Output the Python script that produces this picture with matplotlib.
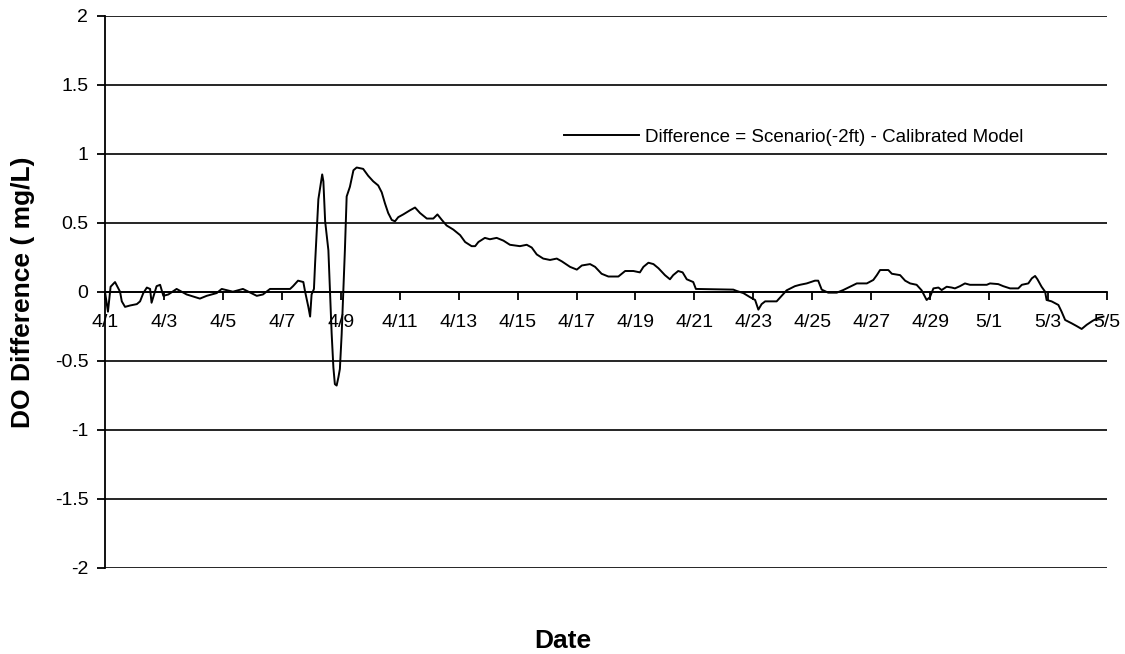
import matplotlib
matplotlib.use('Agg')
import matplotlib.pyplot as plt
import matplotlib.dates as mdates
import numpy as np
import pandas as pd

# Data: days since 4/1 and DO difference (mg/L)
START_DATE = '2004-04-01'
END_DATE = '2004-05-05'

days = [
    0.00, 0.10, 0.19, 0.34, 0.51, 0.57, 0.68, 0.85, 1.08, 1.19, 1.30, 1.42,
    1.53, 1.58, 1.75, 1.87, 1.98, 2.15, 2.43, 2.77, 3.22, 3.45, 3.79, 3.96,
    4.34, 4.68, 5.15, 5.36, 5.60, 6.28, 6.38, 6.55, 6.73, 6.79, 6.90, 6.96,
    7.01, 7.09, 7.13, 7.24, 7.37, 7.41, 7.47, 7.58, 7.69, 7.75, 7.80, 7.86,
    7.92, 7.97, 8.03, 8.14, 8.20, 8.31, 8.43, 8.54, 8.76, 8.93, 9.10, 9.27,
    9.39, 9.50, 9.61, 9.73, 9.84, 9.95, 10.12, 10.35, 10.52, 10.69, 10.92,
    11.14, 11.28, 11.43, 11.59, 11.82, 12.05, 12.22, 12.44, 12.56, 12.67,
    12.89, 13.06, 13.29, 13.52, 13.74, 14.08, 14.31, 14.48, 14.65, 14.87,
    15.10, 15.33, 15.50, 15.78, 16.01, 16.18, 16.46, 16.63, 16.85, 17.08,
    17.42, 17.65, 17.93, 18.15, 18.27, 18.44, 18.61, 18.78, 19.00, 19.17,
    19.28, 19.45, 19.60, 19.74, 19.96, 20.05, 21.32, 21.44, 21.66, 21.89,
    22.06, 22.17, 22.28, 22.40, 22.79, 22.96, 23.13, 23.41, 23.58, 23.81,
    24.09, 24.20, 24.32, 24.54, 24.83, 25.05, 25.28, 25.51, 25.85, 26.07,
    26.19, 26.30, 26.58, 26.70, 26.98, 27.15, 27.32, 27.54, 27.71, 27.88,
    27.99, 28.11, 28.28, 28.39, 28.56, 28.73, 28.84, 29.01, 29.18, 29.35,
    29.92, 30.03, 30.31, 30.48, 30.71, 30.99, 31.11, 31.33, 31.45, 31.56,
    31.64, 31.78, 31.90, 31.95, 32.12, 32.35, 32.46, 32.58, 32.80, 32.97,
    33.14, 33.31, 33.52, 33.71, 33.88,
]

difference = [
    0.00, -0.145, 0.036, 0.07, 0.00, -0.07, -0.11, -0.10, -0.09, -0.07, -0.01, 0.03,
    0.02, -0.08, 0.04, 0.05, -0.03, -0.02, 0.02, -0.02, -0.05, -0.03, -0.01, 0.02,
    0.00, 0.02, -0.03, -0.02, 0.02, 0.02, 0.04, 0.08, 0.07, 0.00, -0.11, -0.18,
    -0.02, 0.02, 0.21, 0.67, 0.85, 0.80, 0.51, 0.30, -0.30, -0.55, -0.67, -0.68,
    -0.62, -0.56, -0.31, 0.30, 0.69, 0.76, 0.88, 0.90, 0.89, 0.84, 0.80, 0.77,
    0.72, 0.64, 0.57, 0.52, 0.51, 0.54, 0.56, 0.59, 0.61, 0.57, 0.53,
    0.53, 0.56, 0.52, 0.48, 0.45, 0.41, 0.36, 0.33, 0.33, 0.36,
    0.39, 0.38, 0.39, 0.37, 0.34, 0.33, 0.34, 0.32, 0.27, 0.24,
    0.23, 0.24, 0.22, 0.18, 0.16, 0.19, 0.20, 0.18, 0.13, 0.11,
    0.11, 0.15, 0.15, 0.14, 0.18, 0.21, 0.20, 0.17, 0.12, 0.09,
    0.12, 0.15, 0.14, 0.09, 0.07, 0.02, 0.015, 0.005, -0.01, -0.04,
    -0.06, -0.13, -0.09, -0.07, -0.07, -0.03, 0.01, 0.04, 0.05, 0.06,
    0.08, 0.08, 0.015, -0.007, -0.007, 0.012, 0.036, 0.06, 0.06, 0.085,
    0.12, 0.157, 0.157, 0.13, 0.12, 0.08, 0.06, 0.05, 0.01, -0.06,
    -0.04, 0.024, 0.03, 0.012, 0.036, 0.03, 0.024, 0.04, 0.06, 0.05,
    0.05, 0.06, 0.055, 0.04, 0.024, 0.024, 0.05, 0.06, 0.097, 0.114,
    0.09, 0.036, 0.00, -0.06, -0.07, -0.096, -0.145, -0.205, -0.229, -0.249,
    -0.27, -0.24, -0.21, -0.19, -0.18,
]

y_ticks = [-2, -1.5, -1, -0.5, 0, 0.5, 1, 1.5, 2]
y_tick_labels = ['-2', '-1.5', '-1', '-0.5', '0', '0.5', '1', '1.5', '2']

LEGEND_LABEL = 'Difference = Scenario(-2ft) - Calibrated Model'
X_LABEL = 'Date'
Y_LABEL = 'DO Difference ( mg/L)'

# Configuration
WIDTH_PX, HEIGHT_PX, DPI = 1125, 654, 100
FONT = 'Liberation Sans'
TICK_FONTSIZE = 14
LABEL_FONTSIZE = 19
LEGEND_FONTSIZE = 13.5
LINEWIDTH = 1.4

plt.rcParams['font.family'] = [FONT, 'DejaVu Sans']

fig = plt.figure(figsize=(WIDTH_PX / DPI, HEIGHT_PX / DPI), dpi=DPI)
ax = fig.add_axes([105 / WIDTH_PX, 1 - 567.7 / HEIGHT_PX,
                   (1107 - 105) / WIDTH_PX, (567.7 - 15.7) / HEIGHT_PX])

# Series
t0 = pd.Timestamp(START_DATE)
times = t0 + pd.to_timedelta(np.array(days), unit='D')
ax.plot(times, difference, color='black', linewidth=LINEWIDTH,
        label=LEGEND_LABEL)

# Axes
ax.set_xlim(t0, pd.Timestamp(END_DATE))
ax.set_ylim(-2, 2)
ax.set_yticks(y_ticks)
ax.set_yticklabels(y_tick_labels)
ax.set_xticks(pd.date_range(START_DATE, END_DATE, freq='2D'))
ax.xaxis.set_major_formatter(mdates.DateFormatter('%-m/%-d'))

for side in ['top', 'right']:
    ax.spines[side].set_visible(False)
ax.spines['bottom'].set_position(('data', 0))
ax.spines['bottom'].set_linewidth(1.3)
ax.spines['left'].set_linewidth(1.3)
ax.spines['bottom'].set_zorder(1)

ax.tick_params(axis='y', direction='out', length=6, width=1.3,
               labelsize=TICK_FONTSIZE, pad=6)
ax.tick_params(axis='x', direction='out', length=6, width=1.3,
               labelsize=TICK_FONTSIZE, pad=10)

ax.yaxis.grid(True, color='black', linewidth=1.2)
ax.set_axisbelow(True)

# Labels
fig.text(23 / WIDTH_PX, 1 - 292 / HEIGHT_PX, Y_LABEL, rotation=90,
         ha='center', va='center', fontsize=LABEL_FONTSIZE, fontweight='bold')
fig.text(562.5 / WIDTH_PX, 1 - 641 / HEIGHT_PX, X_LABEL,
         ha='center', va='center', fontsize=LABEL_FONTSIZE, fontweight='bold')

# Legend
ax.legend(loc='center left', frameon=False, fontsize=LEGEND_FONTSIZE,
          handlelength=4.0, handletextpad=0.3, borderpad=0, borderaxespad=0,
          bbox_to_anchor=(564 / WIDTH_PX, 1 - 137 / HEIGHT_PX),
          bbox_transform=fig.transFigure)

fig.savefig('out.png', dpi=DPI)
